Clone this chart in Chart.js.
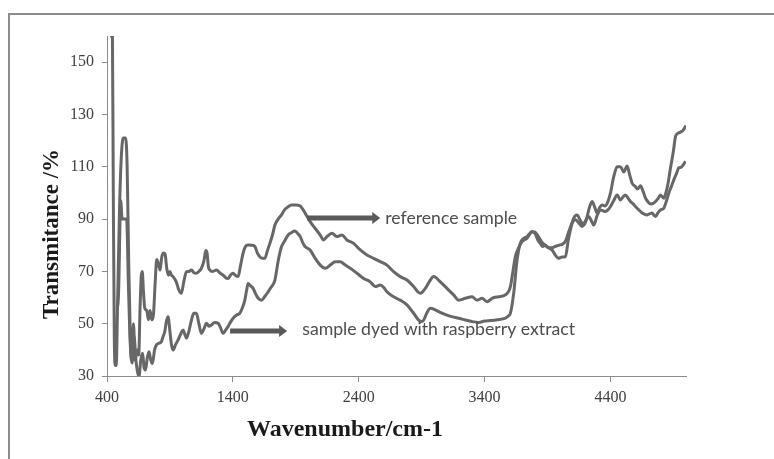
<!DOCTYPE html>
<html><head><meta charset="utf-8">
<script src="https://cdn.jsdelivr.net/npm/chart.js@4.4.1/dist/chart.umd.min.js"></script>
<style>html,body{margin:0;padding:0;background:#fff;}canvas{display:block;}</style>
</head><body>
<canvas id="c" width="774" height="459"></canvas>
<script>
const xTicks = [400, 1400, 2400, 3400, 4400];
const yTicks = [30, 50, 70, 90, 110, 130, 150];
const seriesNames = ['reference sample', 'sample dyed with raspberry extract'];
const xTitle = 'Wavenumber/cm-1';
const yTitle = 'Transmitance /%';

const refWavenumber = [425,443,450,458,465,473,485,500,515,530,548,560,572,585,596,610,624,640,652,662,672,680,690,700,716,729,742,756,769,782,795,808,822,835,850,862,875,889,900,911,925,950,970,991,1010,1031,1050,1071,1090,1110,1130,1150,1170,1185,1195,1205,1217,1240,1270,1295,1322,1345,1362,1380,1402,1420,1442,1460,1481,1500,1521,1550,1575,1595,1614,1635,1654,1675,1694,1715,1734,1760,1786,1810,1839,1865,1900,1935,1975,2014,2054,2094,2120,2147,2187,2226,2266,2306,2359,2412,2465,2518,2571,2624,2677,2730,2783,2836,2870,2889,2929,2960,2995,3048,3101,3154,3194,3247,3300,3340,3380,3420,3459,3512,3565,3605,3625,3644,3670,3698,3737,3777,3800,3825,3850,3880,3910,3940,3965,3987,4015,4042,4065,4095,4115,4135,4160,4188,4210,4230,4254,4275,4294,4315,4334,4355,4374,4400,4425,4453,4479,4506,4532,4552,4572,4598,4615,4638,4660,4678,4700,4718,4740,4758,4780,4797,4812,4824,4840,4855,4877,4900,4917,4943,4970,4985,5000];
const refTransmittance = [160,160,100,45,34,34,60,95,115,121,121,110,75,45,36,50,36,40,38,55,68,70,62,56,55,51.5,55,51.5,53.5,65,74.5,73,70.5,75.5,77,76.5,71,68.5,70,68.6,68,66,63,61.6,66,69.9,70,70.5,69.5,69.3,70,71.2,74,78,77,72,70.5,70,70.5,69.5,68.6,67.5,67.3,68.5,69.3,68.5,68,72,76.9,79.5,80.1,80,79.5,77,75.6,75,75,78,80.7,84,87.7,90,91.6,93.5,94.7,95.4,95.4,95,92.2,89,86.4,83.9,82,83.3,84.6,83.3,83.9,82,80.7,78.2,76.3,75,73.7,72.4,69.9,68,66.7,64.2,62.2,61.6,63.5,66,68,66,63.5,61,59,59.7,60.3,59,59.7,58.4,59.7,60.3,61,64.2,70,75.6,79,81.4,82.7,85.2,85,83.5,81.5,80,79,78,76,75,75.5,75.6,82,88.5,91,91.6,89.5,87.7,90,94,96.7,94.5,92.3,94.5,95.4,95,96,100,106,110,110,108,110.3,107,103.7,102.4,101.5,102.7,100.5,98,96.5,95.8,96,96.7,98,99.2,98.5,98,100,103,109.6,116,121.7,123,123.6,124.5,125.8];

const dyedWavenumber = [470,480,492,509,520,540,556,570,585,600,615,630,645,655,668,683,695,706,720,734,748,761,778,793,812,832,845,859,872,885,900,912,925,945,965,985,1004,1018,1031,1050,1071,1090,1110,1130,1150,1170,1190,1210,1230,1255,1283,1302,1322,1342,1362,1380,1402,1430,1455,1475,1495,1510,1521,1540,1561,1580,1601,1627,1655,1680,1705,1734,1760,1786,1810,1839,1865,1893,1915,1935,1955,1975,2014,2054,2094,2134,2174,2213,2253,2293,2333,2386,2439,2492,2531,2571,2600,2624,2677,2730,2783,2836,2876,2900,2916,2945,2969,3008,3061,3101,3141,3194,3247,3300,3352,3400,3450,3500,3565,3590,3605,3631,3658,3684,3737,3777,3800,3823,3845,3862,3882,3901,3930,3960,3990,4020,4042,4069,4095,4121,4148,4174,4200,4227,4247,4267,4295,4320,4340,4360,4380,4400,4425,4453,4479,4500,4519,4540,4559,4580,4598,4625,4652,4672,4691,4710,4731,4745,4758,4778,4797,4824,4845,4864,4884,4904,4925,4943,4960,4975,4996];
const dyedTransmittance = [56,56,62,97,90,90,90,65,42,35,45,36,31,30,36,38.7,33,32.3,37,39.3,36,34.8,40,41.9,42.5,43.1,45,47,51,52.7,47,42,39.9,42,43.8,46,47.6,46,44.4,47,51.4,54,54,50,46.3,48,50.2,49,49.5,50.5,50.2,48.5,46.3,47.5,48.9,50.5,52.1,53.3,54,56,59,63,65.4,64.5,63.5,61.5,59.7,59,60.5,62.2,64,66.7,74,79.4,81.5,83.9,84.8,85.4,84.5,83.3,81,79.4,78.2,75,72.4,71.2,72.4,73.7,73.7,72.4,71.2,69.3,67.3,66,64.2,64.8,63.8,62.2,60.3,59,57.2,54,51.4,50.8,51.4,54.5,55.9,55.3,54,53.3,52.7,52.1,51.4,50.8,50.5,51,51.2,51.5,52.1,53,54,61.6,74.4,80.8,83.3,85.2,84.5,82,80.5,79.5,80,79.2,79,79.5,80,80.5,81.5,85.2,88.5,89.7,88.5,87.2,89.2,91,89.5,87.7,91.5,93.5,93.2,92.9,93.5,94.8,97,99.2,97.3,98.5,99.2,98,96.7,95.8,94.8,93.5,92.3,91.8,91.6,92,92.3,91.5,91,92.5,93.5,94.2,97,100,102.5,105.1,107.5,109.6,109.8,110.5,112.1];

// annotation anchors in data units
const noteArrows = [
  { label: seriesNames[0], from: [1990, 90.4], to: [2571, 90.4], textAt: [2611, 90.4], textWidth: 132 },
  { label: seriesNames[1], from: [1378, 47.2], to: [1831, 47.2], textAt: [1951, 48.0], textWidth: 273 }
];

const toPoints = (xs, ys) => xs.map((x, i) => ({ x: x, y: ys[i] }));

const decorPlugin = {
  id: 'decor',
  afterDatasetsDraw(chart) {
    const ctx = chart.ctx, xs = chart.scales.x, ys = chart.scales.y;
    ctx.save();
    ctx.strokeStyle = '#8c8c8c'; ctx.lineWidth = 2;
    ctx.beginPath(); ctx.moveTo(9, 459); ctx.lineTo(9, 14); ctx.lineTo(774, 14); ctx.stroke();
    noteArrows.forEach(n => {
      const x1 = xs.getPixelForValue(n.from[0]), x2 = xs.getPixelForValue(n.to[0]);
      const y = ys.getPixelForValue(n.from[1]);
      ctx.strokeStyle = '#595959'; ctx.fillStyle = '#595959';
      ctx.lineWidth = 5; ctx.lineCap = 'butt';
      ctx.beginPath(); ctx.moveTo(x1, y); ctx.lineTo(x2 - 7, y); ctx.stroke();
      ctx.beginPath(); ctx.moveTo(x2 - 8, y - 6); ctx.lineTo(x2, y); ctx.lineTo(x2 - 8, y + 6); ctx.closePath(); ctx.fill();
      ctx.font = '100px Lato';
      const w = ctx.measureText(n.label).width;
      const size = 100 * n.textWidth / w;
      ctx.font = size.toFixed(2) + 'px Lato';
      ctx.fillStyle = '#4d4d4d'; ctx.textAlign = 'left'; ctx.textBaseline = 'middle';
      ctx.fillText(n.label, xs.getPixelForValue(n.textAt[0]), ys.getPixelForValue(n.textAt[1]));
    });
    ctx.fillStyle = '#1a1a1a';
    ctx.font = 'bold 24px "Liberation Serif"';
    ctx.textAlign = 'center'; ctx.textBaseline = 'middle';
    ctx.fillText(xTitle, 345, 430);
    ctx.translate(52, 234); ctx.rotate(-Math.PI / 2);
    ctx.font = 'bold 23px "Liberation Serif"';
    ctx.fillText(yTitle, 0, 0);
    ctx.restore();
  }
};

const tickFont = { family: '"Liberation Serif"', size: 16 };
const axisColor = '#8c8c8c';
const plainLabel = v => String(v);

new Chart(document.getElementById('c'), {
  type: 'scatter',
  data: {
    datasets: [
      { label: seriesNames[0], data: toPoints(refWavenumber, refTransmittance) },
      { label: seriesNames[1], data: toPoints(dyedWavenumber, dyedTransmittance) }
    ].map(d => Object.assign(d, {
      showLine: true, borderColor: '#676767', borderWidth: 3, pointRadius: 0,
      cubicInterpolationMode: 'monotone', fill: false
    }))
  },
  options: {
    responsive: false, animation: false, devicePixelRatio: 1,
    layout: { padding: { top: 36, right: 88, left: 0, bottom: 0 } },
    plugins: { legend: { display: false }, tooltip: { enabled: false } },
    scales: {
      x: {
        type: 'linear', min: 400, max: 5000,
        afterBuildTicks: s => { s.ticks = xTicks.map(v => ({ value: v })); },
        afterFit: s => { s.height = 83; },
        border: { color: axisColor, width: 1 },
        grid: { drawOnChartArea: false, drawTicks: true, tickLength: 6, color: axisColor },
        ticks: { font: tickFont, color: '#404040', padding: 6, maxRotation: 0, autoSkip: false, callback: plainLabel }
      },
      y: {
        type: 'linear', min: 30, max: 160,
        afterBuildTicks: s => { s.ticks = yTicks.map(v => ({ value: v })); },
        afterFit: s => { s.width = 107; },
        border: { color: axisColor, width: 1 },
        grid: { drawOnChartArea: false, drawTicks: true, tickLength: 5, color: axisColor },
        ticks: { font: tickFont, color: '#404040', padding: 8, callback: plainLabel }
      }
    }
  },
  plugins: [decorPlugin]
});
</script>
</body></html>
